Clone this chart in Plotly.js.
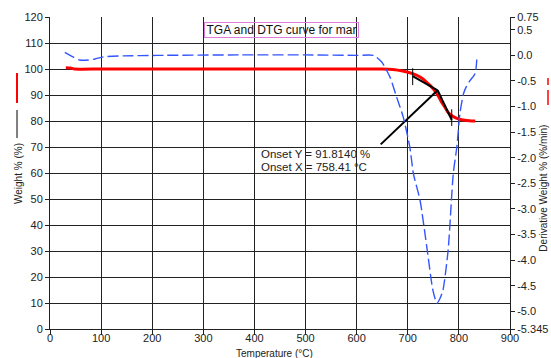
<!DOCTYPE html>
<html>
<head>
<meta charset="utf-8">
<script src="https://cdn.plot.ly/plotly-3.0.1.min.js"></script>
<style>html,body{margin:0;padding:0;background:#fff;}#chart{width:551px;height:358px;}</style>
</head>
<body>
<div id="chart"></div>
<script>
// TGA weight curve (%)
var tgaTemp = [31, 40, 48, 100, 300, 500, 600, 650, 671, 690, 711, 725, 737, 745, 753, 760, 766, 773, 779, 787, 796, 805, 815, 825, 832];
var tgaWeight = [100.5, 100.4, 100, 100, 100, 100, 100, 100, 99.8, 99.2, 98.1, 96.8, 94.9, 93.4, 91.6, 89.5, 87.3, 85.2, 83.3, 81.9, 81.0, 80.5, 80.2, 80.0, 80.0];
// DTG derivative curve (%/min)
var dtgTemp = [29, 45, 58, 75, 88, 104, 143, 209, 372, 500, 600, 633, 649, 665, 678, 691, 704, 711, 724, 738, 749, 757, 763, 769, 779, 789, 796, 802, 809, 815, 822, 832, 835];
var dtgDeriv = [0.06, -0.03, -0.09, -0.09, -0.07, -0.03, -0.01, 0, 0.01, 0.01, 0, 0, -0.13, -0.42, -0.81, -1.2, -1.79, -2.31, -2.83, -3.8, -4.58, -4.84, -4.75, -4.58, -3.8, -2.31, -1.79, -1.14, -0.75, -0.6, -0.49, -0.35, -0.08];
// onset construction lines
var onsetX = 758.41, onsetY = 91.814;
var baseTanT = [709.6, onsetX], baseTanW = [97.3, onsetY];
var stepTanT = [onsetX, 786], stepTanW = [onsetY, 80.4];
var pointerT = [647, onsetX], pointerW = [71.0, onsetY];
var mark1T = [709.6, 709.6], mark1W = [100.3, 93.8];
var mark2T = [786, 786], mark2W = [84.5, 78.1];
// ticks
var xTicks = [0,100,200,300,400,500,600,700,800,900];
var yTicks = [0,10,20,30,40,50,60,70,80,90,100,110,120];
var y2Ticks = [0.75,0.5,0,-0.5,-1,-1.5,-2,-2.5,-3,-3.5,-4,-4.5,-5,-5.345];
var y2Labels = ["0.75","0.5","0.0","-0.5","-1.0","-1.5","-2.0","-2.5","-3.0","-3.5","-4.0","-4.5","-5.0","-5.345"];

var F = "Liberation Sans, Arial, sans-serif";
var traces = [
  {x: dtgTemp, y: dtgDeriv, yaxis: 'y2', mode: 'lines', line: {color: '#3355ff', width: 1.4, dash: '11px,4px', shape: 'spline', smoothing: 0.6}, hoverinfo: 'skip'},
  {x: tgaTemp, y: tgaWeight, mode: 'lines', line: {color: '#ff0000', width: 3, shape: 'spline', smoothing: 0.6}, hoverinfo: 'skip'},
  {x: baseTanT, y: baseTanW, mode: 'lines', line: {color: '#000', width: 2}},
  {x: stepTanT, y: stepTanW, mode: 'lines', line: {color: '#000', width: 2}},
  {x: pointerT, y: pointerW, mode: 'lines', line: {color: '#000', width: 2}},
  {x: mark1T, y: mark1W, mode: 'lines', line: {color: '#000', width: 1}},
  {x: mark2T, y: mark2W, mode: 'lines', line: {color: '#000', width: 1}}
];

var layout = {
  width: 551, height: 358,
  margin: {l: 50, r: 41, t: 17, b: 29},
  paper_bgcolor: '#fff', plot_bgcolor: '#fff',
  showlegend: false,
  font: {family: F, size: 11, color: '#222'},
  xaxis: {range: [0, 900], tickvals: xTicks, ticktext: xTicks.map(String), showgrid: true, gridcolor: '#222', gridwidth: 1,
          showline: true, linecolor: '#222', linewidth: 1, ticks: 'outside', ticklen: 5, tickcolor: '#222', zeroline: false,
          ticklabelstandoff: -6,
          tickfont: {family: F, size: 11, color: '#222'}},
  yaxis: {range: [0, 120], tickvals: yTicks, ticktext: yTicks.map(String), showgrid: true, gridcolor: '#222', gridwidth: 1,
          showline: true, linecolor: '#222', linewidth: 1, ticks: 'outside', ticklen: 4, tickcolor: '#222', zeroline: false,
          tickfont: {family: F, size: 11, color: '#222'}},
  yaxis2: {range: [-5.345, 0.75], overlaying: 'y', side: 'right', tickvals: y2Ticks, ticktext: y2Labels, showgrid: false,
           showline: true, linecolor: '#222', linewidth: 1, ticks: 'outside', ticklen: 4, tickcolor: '#222', zeroline: false,
           tickfont: {family: F, size: 11, color: '#222'}},
  annotations: [
    {xref: 'paper', yref: 'paper', x: 0.504, y: 0.957, text: 'TGA and DTG curve for mar', showarrow: false,
     font: {family: F, size: 12, color: '#111'}, bordercolor: '#e07be0', borderwidth: 1, borderpad: 0,
     width: 153, height: 14, xanchor: 'center', yanchor: 'middle'},
    {xref: 'paper', yref: 'paper', x: 0.454, y: 0.5595, xanchor: 'left', yanchor: 'middle', showarrow: false,
     text: 'Onset Y = 91.8140 %', font: {family: F, size: 11.5, color: '#222'}},
    {xref: 'paper', yref: 'paper', x: 0.454, y: 0.518, xanchor: 'left', yanchor: 'middle', showarrow: false,
     text: 'Onset X = 758.41 °C', font: {family: F, size: 11.5, color: '#222'}},
    {xref: 'paper', yref: 'paper', x: 0.489, y: -0.077, xanchor: 'center', yanchor: 'middle', showarrow: false,
     text: 'Temperature (°C)', font: {family: F, size: 10, color: '#222'}},
    {xref: 'paper', yref: 'paper', x: -0.0696, y: 0.5, xanchor: 'center', yanchor: 'middle', showarrow: false, textangle: -90,
     text: 'Weight % (%)', font: {family: F, size: 10, color: '#222'}},
    {xref: 'paper', yref: 'paper', x: 1.074, y: 0.45, xanchor: 'center', yanchor: 'middle', showarrow: false, textangle: -90,
     text: 'Derivative Weight % (%/min)', font: {family: F, size: 10, color: '#222'}}
  ],
  shapes: [
    {type: 'line', xref: 'paper', yref: 'paper', x0: -0.0717, x1: -0.0717, y0: 0.8205, y1: 0.7244, line: {color: '#ff0000', width: 2}},
    {type: 'line', xref: 'paper', yref: 'paper', x0: -0.0717, x1: -0.0717, y0: 0.7019, y1: 0.6122, line: {color: '#555', width: 1.5}},
    {type: 'line', xref: 'paper', yref: 'paper', x0: 1.0826, x1: 1.0826, y0: 0.8045, y1: 0.782, line: {color: '#ff0000', width: 1.5}},
    {type: 'line', xref: 'paper', yref: 'paper', x0: 1.0826, x1: 1.0826, y0: 0.766, y1: 0.718, line: {color: '#ff0000', width: 1.5}}
  ]
};
Plotly.newPlot('chart', traces, layout, {staticPlot: true, displayModeBar: false});
</script>
</body>
</html>
